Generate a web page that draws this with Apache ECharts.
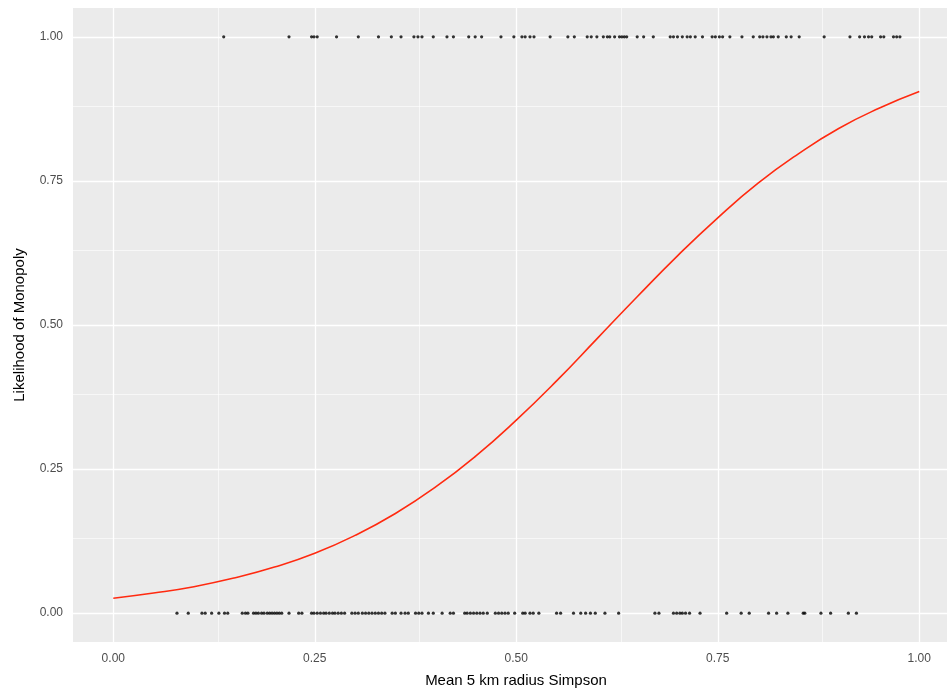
<!DOCTYPE html>
<html>
<head>
<meta charset="utf-8">
<script src="https://cdn.jsdelivr.net/npm/echarts@6/dist/echarts.min.js"></script>
<style>html,body{margin:0;padding:0;background:#fff}#c{width:947px;height:693px}</style>
</head>
<body>
<div id="c"></div>
<script>
// Observations with monopoly = 1 (x = mean 5 km radius Simpson)
const xMonopoly = [0.137,0.218,0.246,0.249,0.253,0.277,0.304,0.329,0.345,0.357,0.373,0.378,0.383,0.397,0.414,0.422,0.441,0.449,0.457,0.481,0.497,0.507,0.511,0.517,0.522,0.542,0.564,0.572,0.588,0.593,0.600,0.608,0.613,0.616,0.622,0.628,0.631,0.634,0.637,0.650,0.658,0.670,0.691,0.695,0.700,0.706,0.712,0.716,0.722,0.731,0.743,0.747,0.752,0.756,0.765,0.780,0.794,0.802,0.806,0.811,0.816,0.819,0.825,0.835,0.841,0.851,0.882,0.914,0.926,0.932,0.937,0.941,0.952,0.956,0.968,0.972,0.976];
// Observations with monopoly = 0
const xNoMonopoly = [0.079,0.093,0.110,0.114,0.122,0.131,0.138,0.142,0.160,0.164,0.167,0.174,0.177,0.180,0.184,0.187,0.191,0.194,0.197,0.200,0.203,0.206,0.209,0.218,0.230,0.234,0.246,0.249,0.253,0.257,0.261,0.264,0.268,0.272,0.275,0.279,0.283,0.287,0.296,0.300,0.304,0.309,0.313,0.317,0.321,0.325,0.329,0.333,0.337,0.346,0.350,0.357,0.362,0.366,0.375,0.379,0.383,0.391,0.397,0.408,0.418,0.422,0.436,0.439,0.443,0.447,0.451,0.455,0.459,0.464,0.474,0.478,0.482,0.486,0.490,0.498,0.508,0.511,0.517,0.521,0.528,0.550,0.555,0.571,0.580,0.586,0.592,0.598,0.610,0.627,0.672,0.677,0.695,0.699,0.703,0.706,0.710,0.715,0.728,0.761,0.779,0.789,0.813,0.823,0.837,0.856,0.858,0.878,0.890,0.912,0.922];
// Fitted curve
const curveX = [0,0.05,0.1,0.15,0.2,0.25,0.3,0.35,0.4,0.45,0.5,0.55,0.6,0.65,0.7,0.75,0.8,0.85,0.9,0.95,1.0];
const curveY = [0.026,0.035,0.046,0.061,0.080,0.104,0.135,0.173,0.219,0.273,0.335,0.403,0.476,0.549,0.620,0.686,0.746,0.797,0.841,0.876,0.905];
// Ticks
const majorTicks = [0,0.25,0.5,0.75,1];
const minorTicks = [0.125,0.375,0.625,0.875];

const chart = echarts.init(document.getElementById('c'), null, {renderer:'canvas'});
const font = '"Liberation Sans", Arial, sans-serif';
const gridLines = [];
majorTicks.forEach(v => { gridLines.push({xAxis:v, lineStyle:{width:1.3}}); gridLines.push({yAxis:v, lineStyle:{width:1.3}}); });
minorTicks.forEach(v => { gridLines.push({xAxis:v, lineStyle:{width:0.6}}); gridLines.push({yAxis:v, lineStyle:{width:0.6}}); });

const axisCommon = {
  type:'value', min:-0.05, max:1.05,
  splitLine:{show:false}, axisLine:{show:false},
  axisTick:{show:true, length:4, customValues:majorTicks, lineStyle:{color:'#333333', width:1}},
  axisLabel:{customValues:majorTicks, formatter:v=>v.toFixed(2), color:'#4d4d4d', fontSize:12, fontFamily:font, margin:10},
  nameLocation:'middle'
};

chart.setOption({
  animation:false,
  grid:{left:73, right:0, top:8, bottom:48, show:true, backgroundColor:'#ebebeb', borderWidth:0},
  xAxis:Object.assign({}, axisCommon, {max:1.0344, name:'Mean 5 km radius Simpson', nameGap:31,
    axisLabel:Object.assign({}, axisCommon.axisLabel, {margin:11}),
    nameTextStyle:{color:'#000', fontSize:15, fontFamily:font, padding:[0,0,0,12]}}),
  yAxis:Object.assign({}, axisCommon, {name:'Likelihood of Monopoly', nameGap:46,
    nameTextStyle:{color:'#000', fontSize:15, fontFamily:font}}),
  series:[
    {type:'line', data:[], z:1, silent:true,
     markLine:{z:1, silent:true, symbol:['none','none'], label:{show:false}, animation:false,
       lineStyle:{color:'#ffffff', type:'solid'}, data:gridLines}},
    {type:'scatter', data:xMonopoly.map(x=>[x,1]), symbol:'circle', symbolSize:3.2, itemStyle:{color:'#000'}, z:3, silent:true},
    {type:'scatter', data:xNoMonopoly.map(x=>[x,0]), symbol:'circle', symbolSize:3.2, itemStyle:{color:'#000'}, z:3, silent:true},
    {type:'line', data:curveX.map((x,i)=>[x,curveY[i]]), smooth:true, showSymbol:false, lineStyle:{color:'#ff2a10', width:1.6}, z:4, silent:true}
  ]
});
</script>
</body>
</html>
